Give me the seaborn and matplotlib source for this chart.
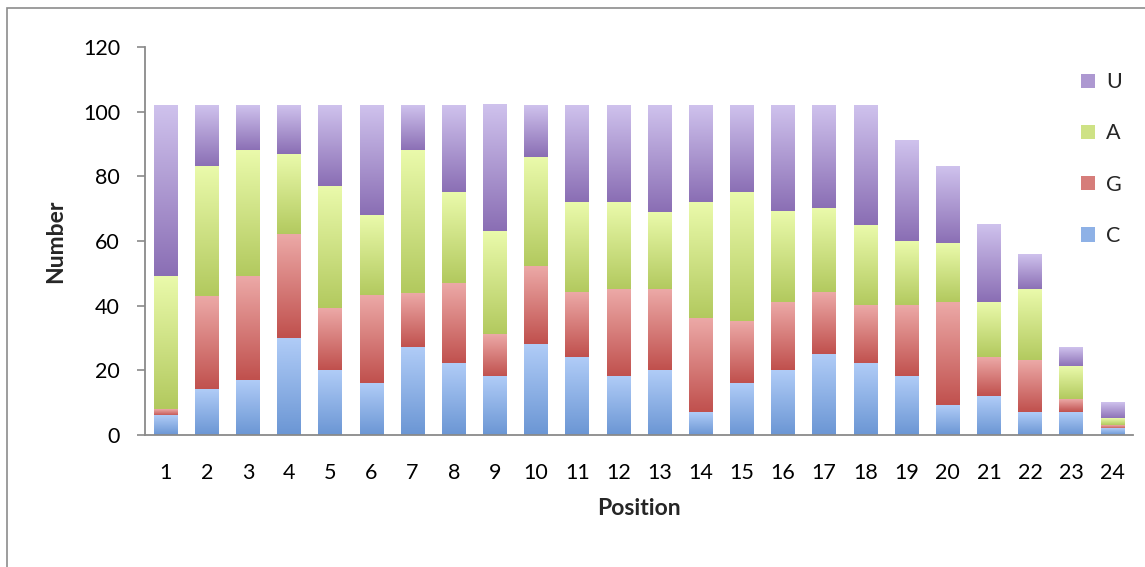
#!/usr/bin/env python3
# coding=utf-8
from matplotlib import pyplot as plt
from matplotlib.colors import LinearSegmentedColormap
from matplotlib.patches import Patch, Rectangle
import pandas as pd
import seaborn as sns
import numpy as np

# nucleotide counts per position
positions = ['1', '2', '3', '4', '5', '6', '7', '8', '9', '10', '11', '12',
             '13', '14', '15', '16', '17', '18', '19', '20', '21', '22', '23', '24']
c_counts = [6, 14, 17, 30, 20, 16, 27, 22, 18, 28, 24, 18,
            20, 7, 16, 20, 25, 22, 18, 9, 12, 7, 7, 2]
g_counts = [2, 29, 32, 32, 19, 27, 17, 25, 13, 24, 20, 27,
            25, 29, 19, 21, 19, 18, 22, 32, 12, 16, 4, 1]
a_counts = [41, 40, 39, 25, 38, 25, 44, 28, 32, 34, 28, 27,
            24, 36, 40, 28, 26, 25, 20, 18, 17, 22, 10, 2]
u_counts = [53, 19, 14, 15, 25, 34, 14, 27, 39, 16, 30, 30,
            33, 30, 27, 33, 32, 37, 31, 24, 24, 11, 6, 5]

# (bottom colour, top colour) of the excel-like gradient
colors = {
    'C': ('#6b96d4', '#b0ccf7'),
    'G': ('#c0504d', '#eca9a7'),
    'A': ('#b2c95e', '#eafaab'),
    'U': ('#8a6eb4', '#cfc2ed'),
}


def plot_nucleotides(fig_location: str = 'out.png'):
    df = pd.DataFrame({'position': positions, 'C': c_counts, 'G': g_counts,
                       'A': a_counts, 'U': u_counts})
    # cumulative tops of the stacked segments
    df['top_C'] = df['C']
    df['top_G'] = df['top_C'] + df['G']
    df['top_A'] = df['top_G'] + df['A']
    df['top_U'] = df['top_A'] + df['U']
    df['top_none'] = 0

    sns.set_theme(style='white')
    plt.rcParams['font.family'] = ['Lato', 'DejaVu Sans']

    fig, ax = plt.subplots(figsize=(11.45, 5.67), dpi=100)
    fig.subplots_adjust(left=0.1266, right=0.9895, bottom=0.2328, top=0.917)

    grad = np.linspace(0, 1, 256).reshape(-1, 1)
    layers = [('U', 'A'), ('A', 'G'), ('G', 'C'), ('C', 'none')]
    handles = []
    for name, below in layers:
        dark, light = colors[name]
        cmap = LinearSegmentedColormap.from_list(name, [dark, light])
        n_before = len(ax.patches)
        sns.barplot(data=df, x='position', y='top_' + name, color=dark,
                    saturation=1, width=0.57, errorbar=None, linewidth=0,
                    order=positions, ax=ax)
        bars = ax.patches[n_before:]
        # paint each visible segment with a vertical gradient
        for bar, lo, hi in zip(bars, df['top_' + below], df['top_' + name]):
            x0 = bar.get_x()
            ax.imshow(grad, extent=[x0, x0 + bar.get_width(), lo, hi],
                      cmap=cmap, aspect='auto', origin='lower',
                      interpolation='bilinear', zorder=1.5)
        handles.append(Patch(facecolor=cmap(0.5), edgecolor='none', label=name))

    ax.set_xlim(-0.5, 23.5)
    ax.set_ylim(0, 120)
    ax.set_yticks([0, 20, 40, 60, 80, 100, 120])

    # axes styling
    for side in ['top', 'right']:
        ax.spines[side].set_visible(False)
    for side in ['left', 'bottom']:
        ax.spines[side].set_color('#8a8a8a')
        ax.spines[side].set_linewidth(1.3)
    ax.tick_params(axis='y', left=True, length=6, width=1.2, color='#8a8a8a',
                   pad=12, labelsize=15.5, labelcolor='black')
    ax.tick_params(axis='x', bottom=False, pad=14, labelsize=15.5, labelcolor='black')

    ax.set_xlabel('Position', fontsize=16.5, fontweight='bold', labelpad=11)
    ax.set_ylabel('Number', fontsize=16.5, fontweight='bold', labelpad=12)

    ax.legend(handles=handles, loc='upper left', bbox_to_anchor=(0.928, 0.985),
              frameon=False, fontsize=15.5, handlelength=0.65, handleheight=0.65,
              handletextpad=0.5, labelspacing=1.45)

    # thin frame around the chart area, like the original export
    frame = Rectangle((7 / 1145, -0.1), 1.2, 1.1 - 8 / 567, transform=fig.transFigure,
                      fill=False, edgecolor='#8c8c8c', linewidth=1.2)
    fig.add_artist(frame)

    plt.savefig(fig_location)


if __name__ == "__main__":
    plot_nucleotides('out.png')
